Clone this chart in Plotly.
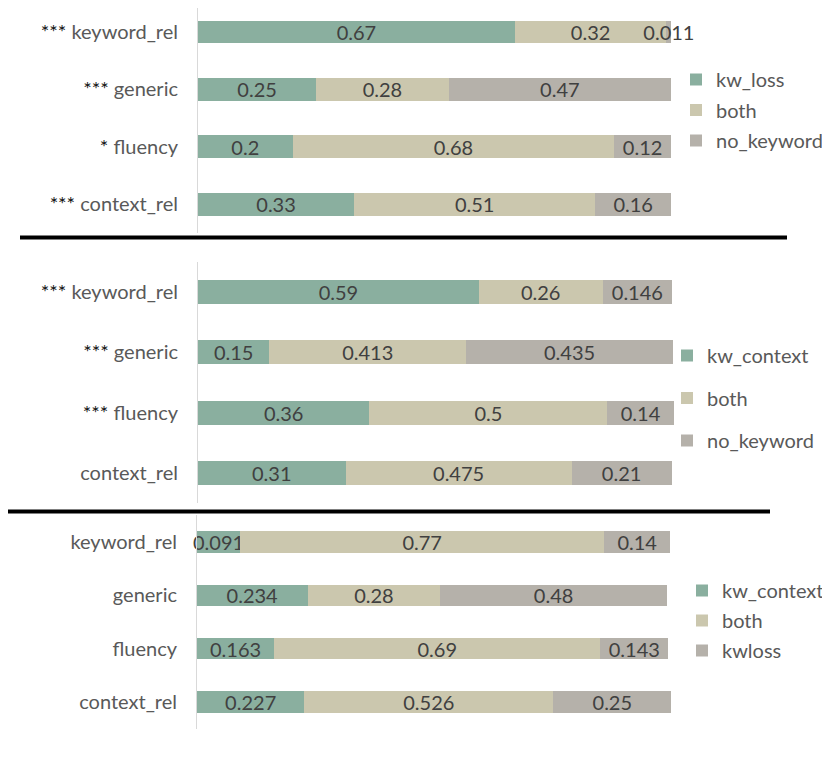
import plotly.graph_objs as go

# categories, top to bottom
categories = ["keyword_rel", "generic", "fluency", "context_rel"]

# panel 1
stars1 = ["***", "***", "*", "***"]
p1_kw_loss = [0.67, 0.25, 0.2, 0.33]
p1_both = [0.32, 0.28, 0.68, 0.51]
p1_no_keyword = [0.011, 0.47, 0.12, 0.16]

# panel 2
stars2 = ["***", "***", "***", ""]
p2_kw_context = [0.59, 0.15, 0.36, 0.31]
p2_both = [0.26, 0.413, 0.5, 0.475]
p2_no_keyword = [0.146, 0.435, 0.14, 0.21]

# panel 3
stars3 = ["", "", "", ""]
p3_kw_context = [0.091, 0.234, 0.163, 0.227]
p3_both = [0.77, 0.28, 0.69, 0.526]
p3_kwloss = [0.14, 0.48, 0.143, 0.25]

GREEN = "#8aaf9f"
BEIGE = "#cbc7ae"
GREY = "#b5b1aa"
FONT = "Lato"
FS = 20

W, H = 830, 760
OFF = 8  # page body margin, positions below are in window pixels


def bar(name, values, color, axis, legend, group):
    return go.Bar(
        name=name,
        y=categories,
        x=values,
        orientation="h",
        marker=dict(color=color, line=dict(width=0)),
        text=[str(v) for v in values],
        textposition="inside",
        insidetextanchor="middle",
        constraintext="none",
        textangle=0,
        textfont=dict(family=FONT, size=FS, color="#404040"),
        cliponaxis=False,
        xaxis="x" + axis,
        yaxis="y" + axis,
        legend=legend,
        legendgroup=group,
        hoverinfo="skip")


def labels(stars):
    out = []
    for s, c in zip(stars, categories):
        if s:
            out.append("<span style='color:#111111'>" + s + "</span> " + c)
        else:
            out.append(c)
    return out


data = [
    bar("kw_loss", p1_kw_loss, GREEN, "", "legend", "a1"),
    bar("both", p1_both, BEIGE, "", "legend", "a2"),
    bar("no_keyword", p1_no_keyword, GREY, "", "legend", "a3"),
    bar("kw_context", p2_kw_context, GREEN, "2", "legend2", "b1"),
    bar("both", p2_both, BEIGE, "2", "legend2", "b2"),
    bar("no_keyword", p2_no_keyword, GREY, "2", "legend2", "b3"),
    bar("kw_context", p3_kw_context, GREEN, "3", "legend3", "c1"),
    bar("both", p3_both, BEIGE, "3", "legend3", "c2"),
    bar("kwloss", p3_kwloss, GREY, "3", "legend3", "c3"),
]


def px(v):
    return (v - OFF) / W


def py(v):
    return 1 - (v - OFF) / H


def xax(left, scale):
    return dict(domain=[px(left), px(left + 1.05 * scale)], range=[0, 1.05],
                visible=False, fixedrange=True)


def yax(top, bottom, first, step, stars, anchor):
    return dict(domain=[py(bottom), py(top)], type="category",
                categoryorder="array", categoryarray=categories,
                range=[(bottom - first) / step, (top - first) / step],
                tickvals=categories, ticktext=labels(stars),
                showline=True, linecolor="#d9d9d9", linewidth=1, showgrid=False,
                zeroline=False, ticks="", ticklabelstandoff=15,
                tickfont=dict(family=FONT, size=FS, color="#595959"),
                anchor=anchor, fixedrange=True)


def leg(x, y, gap):
    return dict(x=px(x), y=py(y), xanchor="left", yanchor="top",
                traceorder="grouped", tracegroupgap=gap,
                font=dict(family=FONT, size=FS, color="#595959"),
                bgcolor="rgba(0,0,0,0)")


layout = dict(
    width=W, height=H,
    margin=dict(l=0, r=0, t=0, b=0),
    paper_bgcolor="white", plot_bgcolor="white",
    barmode="stack", bargap=0.6,
    showlegend=True,
    xaxis=xax(198, 473), yaxis=yax(8, 232.7, 32, 57.4, stars1, "x"),
    xaxis2=xax(198, 476), yaxis2=yax(261.8, 503.2, 292, 60.4, stars2, "x2"),
    xaxis3=xax(197, 473), yaxis3=yax(515.3, 728.7, 542, 53.33, stars3, "x3"),
    legend=leg(676, 60, 1.5),
    legend2=leg(667, 336, 13.5),
    legend3=leg(682, 571, 1),
    shapes=[
        dict(type="line", xref="paper", yref="paper", x0=px(20), x1=px(787),
             y0=py(237.5), y1=py(237.5), line=dict(color="black", width=4)),
        dict(type="line", xref="paper", yref="paper", x0=px(3), x1=px(770),
             y0=py(511.5), y1=py(511.5), line=dict(color="black", width=4)),
    ],
)

fig = go.Figure(data=data, layout=layout)
fig.write_html("out.html")
